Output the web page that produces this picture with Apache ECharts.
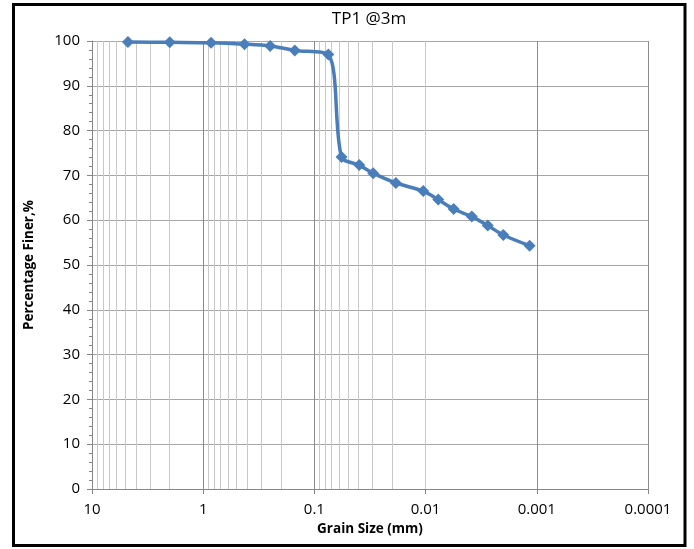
<!DOCTYPE html>
<html>
<head>
<meta charset="utf-8">
<script src="https://cdn.jsdelivr.net/npm/echarts@6/dist/echarts.min.js"></script>
<style>html,body{margin:0;padding:0;background:#fff}#c{width:694px;height:549px}</style>
</head>
<body>
<div id="c"></div>
<script>
// Grain size (mm) and percentage finer
var grainSize = [4.75, 2.0, 0.85, 0.425, 0.25, 0.15, 0.075, 0.057, 0.0395, 0.0296, 0.0185, 0.0105, 0.0077, 0.0056, 0.00384, 0.00276, 0.0020, 0.00116];
var percentFiner = [99.8, 99.7, 99.6, 99.3, 98.9, 97.9, 97.0, 74.1, 72.3, 70.5, 68.3, 66.5, 64.6, 62.5, 60.8, 58.8, 56.7, 54.3];
var xTickLabels = ['10', '1', '0.1', '0.01', '0.001', '0.0001'];
var yTickLabels = ['0', '10', '20', '30', '40', '50', '60', '70', '80', '90', '100'];
var chartTitle = 'TP1 @3m';
var xTitle = 'Grain Size (mm)';
var yTitle = 'Percentage Finer,%';

var pts = grainSize.map(function (g, i) { return [g, percentFiner[i]]; });

// minor log grid lines: 2..9 within each decade
var minorLines = [];
for (var e = -4; e < 1; e++) {
  for (var m = 2; m <= 9; m++) {
    minorLines.push({ xAxis: +(m * Math.pow(10, e)).toPrecision(6) });
  }
}

function fmtX(v) {
  var lv = Math.log10(v);
  for (var i = 0; i < xTickLabels.length; i++) {
    if (Math.abs(Math.log10(parseFloat(xTickLabels[i])) - lv) < 1e-6) return xTickLabels[i];
  }
  return '';
}

var chart = echarts.init(document.getElementById('c'), null, { renderer: 'canvas' });
chart.setOption({
  animation: false,
  backgroundColor: '#ffffff',
  title: {
    text: chartTitle,
    left: 364, top: 6, textAlign: 'center',
    textStyle: { fontFamily: 'Open Sans', fontSize: 17, fontWeight: 'normal', color: '#000' }
  },
  grid: { left: 92, right: 46, top: 41, bottom: 60, containLabel: false },
  xAxis: {
    type: 'log', logBase: 10, min: 0.0001, max: 10, inverse: true,
    name: xTitle, nameLocation: 'middle', nameGap: 32,
    nameTextStyle: { fontFamily: 'Open Sans', fontSize: 13.5, fontWeight: 'bold', color: '#000' },
    axisLine: { onZero: false, lineStyle: { color: '#868686', width: 1 } },
    axisTick: { show: true, inside: false, length: 5, lineStyle: { color: '#868686' } },
    axisLabel: { formatter: fmtX, fontFamily: 'Open Sans', fontSize: 15, color: '#000', margin: 13 },
    splitLine: { show: true, lineStyle: { color: '#8c8c8c', width: 1 } },
    minorTick: { show: false },
    minorSplitLine: { show: false }
  },
  yAxis: {
    type: 'value', min: 0, max: 100, interval: 10,
    name: yTitle, nameLocation: 'middle', nameGap: 56, nameRotate: 90,
    nameTextStyle: { fontFamily: 'Open Sans', fontSize: 13.5, fontWeight: 'bold', color: '#000' },
    axisLine: { show: true, lineStyle: { color: '#868686', width: 1 } },
    axisTick: { show: true, inside: false, length: 5, lineStyle: { color: '#868686' } },
    minorTick: { show: true, splitNumber: 5, length: 3, lineStyle: { color: '#868686' } },
    axisLabel: {
      fontFamily: 'Open Sans', fontSize: 15, color: '#000', margin: 12,
      formatter: function (v) { return yTickLabels[Math.round(v / 10)]; }
    },
    splitLine: { show: true, lineStyle: { color: '#a6a6a6', width: 1 } }
  },
  series: [
    {
      type: 'line', data: [], z: 1, silent: true,
      markLine: {
        silent: true, symbol: ['none', 'none'], animation: false,
        label: { show: false },
        lineStyle: { color: '#c8c8c8', width: 1, type: 'solid' },
        emphasis: { disabled: true },
        data: minorLines
      }
    },
    {
      type: 'line', data: pts, z: 5, smooth: 0.3,
      symbol: 'diamond', symbolSize: 12,
      lineStyle: { color: '#4a7ebb', width: 3.5 },
      itemStyle: { color: '#4a7ebb' }
    }
  ],
  graphic: [
    {
      type: 'rect', z: 100, silent: true,
      shape: { x: 13.5, y: 4.5, width: 671.5, height: 541 },
      style: { fill: 'none', stroke: '#000', lineWidth: 3 }
    }
  ]
});
</script>
</body>
</html>
